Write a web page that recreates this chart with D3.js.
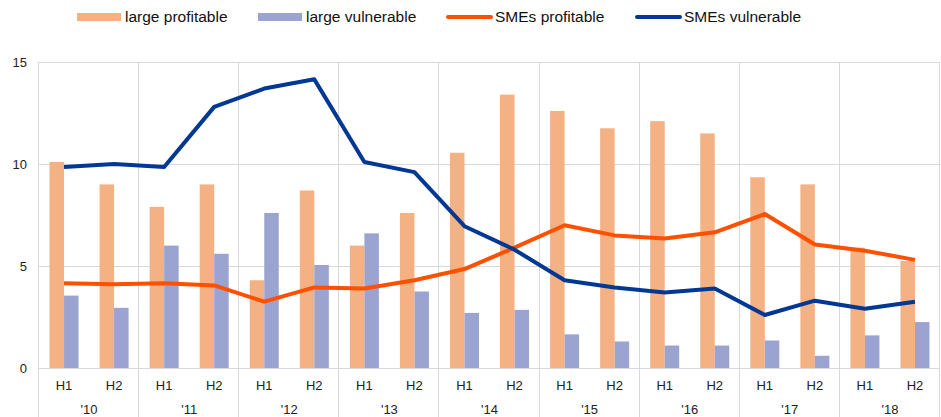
<!DOCTYPE html>
<html>
<head>
<meta charset="utf-8">
<script src="https://cdn.jsdelivr.net/npm/d3@7"></script>
<style>
  html, body { margin: 0; padding: 0; background: #fff; }
  svg { display: block; font-family: "Liberation Sans", Arial, sans-serif; }
</style>
</head>
<body>
<svg id="chart" width="941" height="417"></svg>
<script>
// half-year periods
const years = ["'10", "'11", "'12", "'13", "'14", "'15", "'16", "'17", "'18"];
const halves = ["H1", "H2"];
const yTicks = [0, 5, 10, 15];

const largeProfitable = [10.1, 9.0, 7.9, 9.0, 4.3, 8.7, 6.0, 7.6, 10.55, 13.4, 12.6, 11.75, 12.1, 11.5, 9.35, 9.0, 5.9, 5.25];
const largeVulnerable = [3.55, 2.95, 6.0, 5.6, 7.6, 5.05, 6.6, 3.75, 2.7, 2.85, 1.65, 1.3, 1.1, 1.1, 1.35, 0.6, 1.6, 2.25];
const smesProfitable = [4.15, 4.1, 4.15, 4.05, 3.25, 3.95, 3.9, 4.3, 4.85, 5.9, 7.0, 6.5, 6.35, 6.65, 7.55, 6.05, 5.75, 5.3];
const smesVulnerable = [9.85, 10.0, 9.85, 12.8, 13.7, 14.15, 10.1, 9.6, 6.95, 5.8, 4.3, 3.95, 3.7, 3.9, 2.6, 3.3, 2.9, 3.25];

const colors = {
  lp: "#f4b183",
  lv: "#9ba3d0",
  sp: "#ff5000",
  sv: "#003893"
};

const svg = d3.select("#chart");
const margin = { top: 62, right: 1, bottom: 49, left: 39 };
const W = 941, H = 417;

const periods = years.flatMap(y => halves.map(h => y + h));

const x = d3.scaleBand().domain(periods).range([margin.left, W - margin.right]);
const xYear = d3.scaleBand().domain(years).range([margin.left, W - margin.right]);
const y = d3.scaleLinear().domain([0, 15]).range([H - margin.bottom, margin.top]);

const barW = 14.5;
const x1 = d3.scaleBand().domain(["lp", "lv"])
  .range([x.bandwidth() / 2 - barW, x.bandwidth() / 2 + barW]);

// horizontal gridlines
svg.append("g")
  .selectAll("line")
  .data(yTicks)
  .join("line")
  .attr("x1", margin.left)
  .attr("x2", W - margin.right)
  .attr("y1", d => y(d))
  .attr("y2", d => y(d))
  .attr("stroke", "#d9d9d9")
  .attr("stroke-width", 1)
  .attr("shape-rendering", "crispEdges");

// vertical year separators
const yearEdges = years.map(d => xYear(d)).concat([W - margin.right]);
svg.append("g")
  .selectAll("line")
  .data(yearEdges)
  .join("line")
  .attr("x1", d => Math.round(d) - 0.5)
  .attr("x2", d => Math.round(d) - 0.5)
  .attr("y1", margin.top)
  .attr("y2", H)
  .attr("stroke", "#d9d9d9")
  .attr("stroke-width", 1);

// y tick labels
svg.append("g")
  .selectAll("text")
  .data(yTicks)
  .join("text")
  .attr("x", 27)
  .attr("y", d => y(d))
  .attr("dy", "0.35em")
  .attr("text-anchor", "end")
  .attr("font-size", 13)
  .attr("fill", "#222")
  .text(d => d);

// bars
const barData = periods.map((p, i) => ({ p, lp: largeProfitable[i], lv: largeVulnerable[i] }));
const groups = svg.append("g")
  .selectAll("g")
  .data(barData)
  .join("g")
  .attr("transform", d => `translate(${x(d.p)},0)`);

groups.selectAll("rect")
  .data(d => ["lp", "lv"].map(k => ({ k, v: d[k] })))
  .join("rect")
  .attr("x", d => x1(d.k))
  .attr("width", x1.bandwidth())
  .attr("y", d => y(d.v))
  .attr("height", d => y(0) - y(d.v))
  .attr("fill", d => colors[d.k]);

// lines
const line = d3.line()
  .x((d, i) => x(periods[i]) + x.bandwidth() / 2)
  .y(d => y(d));

svg.append("path")
  .datum(smesProfitable)
  .attr("d", line)
  .attr("fill", "none")
  .attr("stroke", colors.sp)
  .attr("stroke-width", 4)
  .attr("stroke-linejoin", "round");

svg.append("path")
  .datum(smesVulnerable)
  .attr("d", line)
  .attr("fill", "none")
  .attr("stroke", colors.sv)
  .attr("stroke-width", 4)
  .attr("stroke-linejoin", "round");

// H1 / H2 labels
svg.append("g")
  .selectAll("text")
  .data(periods)
  .join("text")
  .attr("x", d => x(d) + x.bandwidth() / 2)
  .attr("y", 385)
  .attr("dy", "0.35em")
  .attr("text-anchor", "middle")
  .attr("font-size", 13)
  .attr("fill", "#222")
  .text(d => d.slice(-2));

// year labels
svg.append("g")
  .selectAll("text")
  .data(years)
  .join("text")
  .attr("x", d => xYear(d) + xYear.bandwidth() / 2)
  .attr("y", 409)
  .attr("dy", "0.35em")
  .attr("text-anchor", "middle")
  .attr("font-size", 13)
  .attr("fill", "#222")
  .text(d => d);

// legend
const legendItems = [
  { label: "large profitable", key: "lp", type: "bar", x: 77 },
  { label: "large vulnerable", key: "lv", type: "bar", x: 258 },
  { label: "SMEs profitable", key: "sp", type: "line", x: 447 },
  { label: "SMEs vulnerable", key: "sv", type: "line", x: 636 }
];

const legend = svg.append("g")
  .selectAll("g")
  .data(legendItems)
  .join("g")
  .attr("transform", d => `translate(${d.x},17)`);

legend.filter(d => d.type === "bar")
  .append("rect")
  .attr("x", 0)
  .attr("y", -4)
  .attr("width", 44)
  .attr("height", 8)
  .attr("fill", d => colors[d.key]);

legend.filter(d => d.type === "line")
  .append("line")
  .attr("x1", 1)
  .attr("x2", 44)
  .attr("y1", 0)
  .attr("y2", 0)
  .attr("stroke", d => colors[d.key])
  .attr("stroke-width", 4)
  .attr("stroke-linecap", "round");

legend.append("text")
  .attr("x", 48)
  .attr("y", 0)
  .attr("dy", "0.35em")
  .attr("font-size", 15.5)
  .attr("fill", "#111")
  .text(d => d.label);
</script>
</body>
</html>
